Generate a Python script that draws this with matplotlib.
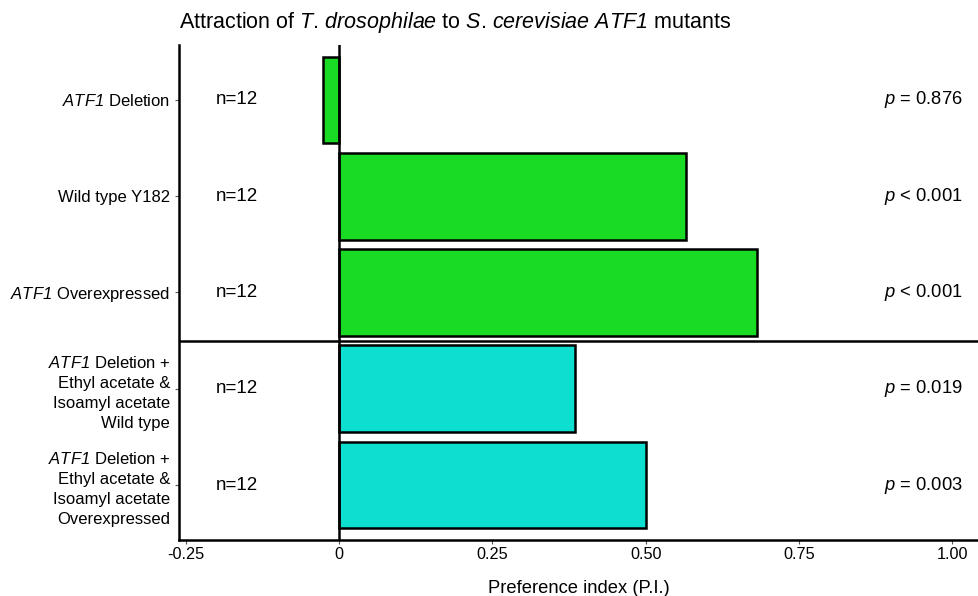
import matplotlib.pyplot as plt

plt.rcParams['font.family'] = 'Liberation Sans'
plt.rcParams['mathtext.fontset'] = 'custom'
plt.rcParams['mathtext.rm'] = 'Liberation Sans:italic'
plt.rcParams['mathtext.it'] = 'Liberation Sans:italic'

# strains, top to bottom
labels = ['$ATF1$ Deletion',
          'Wild type Y182',
          '$ATF1$ Overexpressed',
          '$ATF1$ Deletion +\nEthyl acetate &\nIsoamyl acetate\nWild type',
          '$ATF1$ Deletion +\nEthyl acetate &\nIsoamyl acetate\nOverexpressed']
pref_index = [-0.026, 0.566, 0.682, 0.385, 0.500]
n_counts = [12, 12, 12, 12, 12]
p_text = ['= 0.876', '< 0.001', '< 0.001', '= 0.019', '= 0.003']
colors = ['#1adb23', '#1adb23', '#1adb23', '#0cdecf', '#0cdecf']
xticks = [-0.25, 0, 0.25, 0.5, 0.75, 1.0]
xticklabels = ['-0.25', '0', '0.25', '0.50', '0.75', '1.00']

fig = plt.figure(figsize=(9.79, 5.96), dpi=100)
ax = fig.add_axes([0.183, 0.094, 0.817, 0.8305])

ypos = list(range(len(labels)))
ax.barh(ypos, pref_index, height=0.9, color=colors, edgecolor='black', linewidth=1.8, zorder=2)

# zero line and separator between the two groups
ax.axvline(0, color='black', linewidth=1.8, zorder=3)
ax.axhline(2.5, color='black', linewidth=1.8, zorder=3)

for y, n, p in zip(ypos, n_counts, p_text):
    ax.text(-0.202, y, 'n=' + str(n), ha='left', va='center', fontsize=13.5)
    ax.text(1.017, y, '$p$ ' + p, ha='right', va='center', fontsize=13.2)

ax.set_xlim(-0.261, 1.0435)
ax.set_ylim(4.57, -0.57)
ax.set_yticks(ypos)
ax.set_yticklabels(labels, fontsize=12, linespacing=1.42)
ax.set_xticks(xticks)
ax.set_xticklabels(xticklabels, fontsize=11.7)
ax.tick_params(axis='both', length=3, width=0.8, colors='#555555', labelcolor='black')
ax.tick_params(axis='x', pad=2)

for side in ['top', 'right']:
    ax.spines[side].set_visible(False)
for side in ['left', 'bottom']:
    ax.spines[side].set_linewidth(1.8)

ax.set_xlabel('Preference index (P.I.)', fontsize=13.2, labelpad=13)
fig.text(0.183, 0.962, 'Attraction of $T$. $drosophilae$ to $S$. $cerevisiae$ $ATF1$ mutants',
         ha='left', va='center', fontsize=15.5)

plt.savefig('out.png', dpi=100)
